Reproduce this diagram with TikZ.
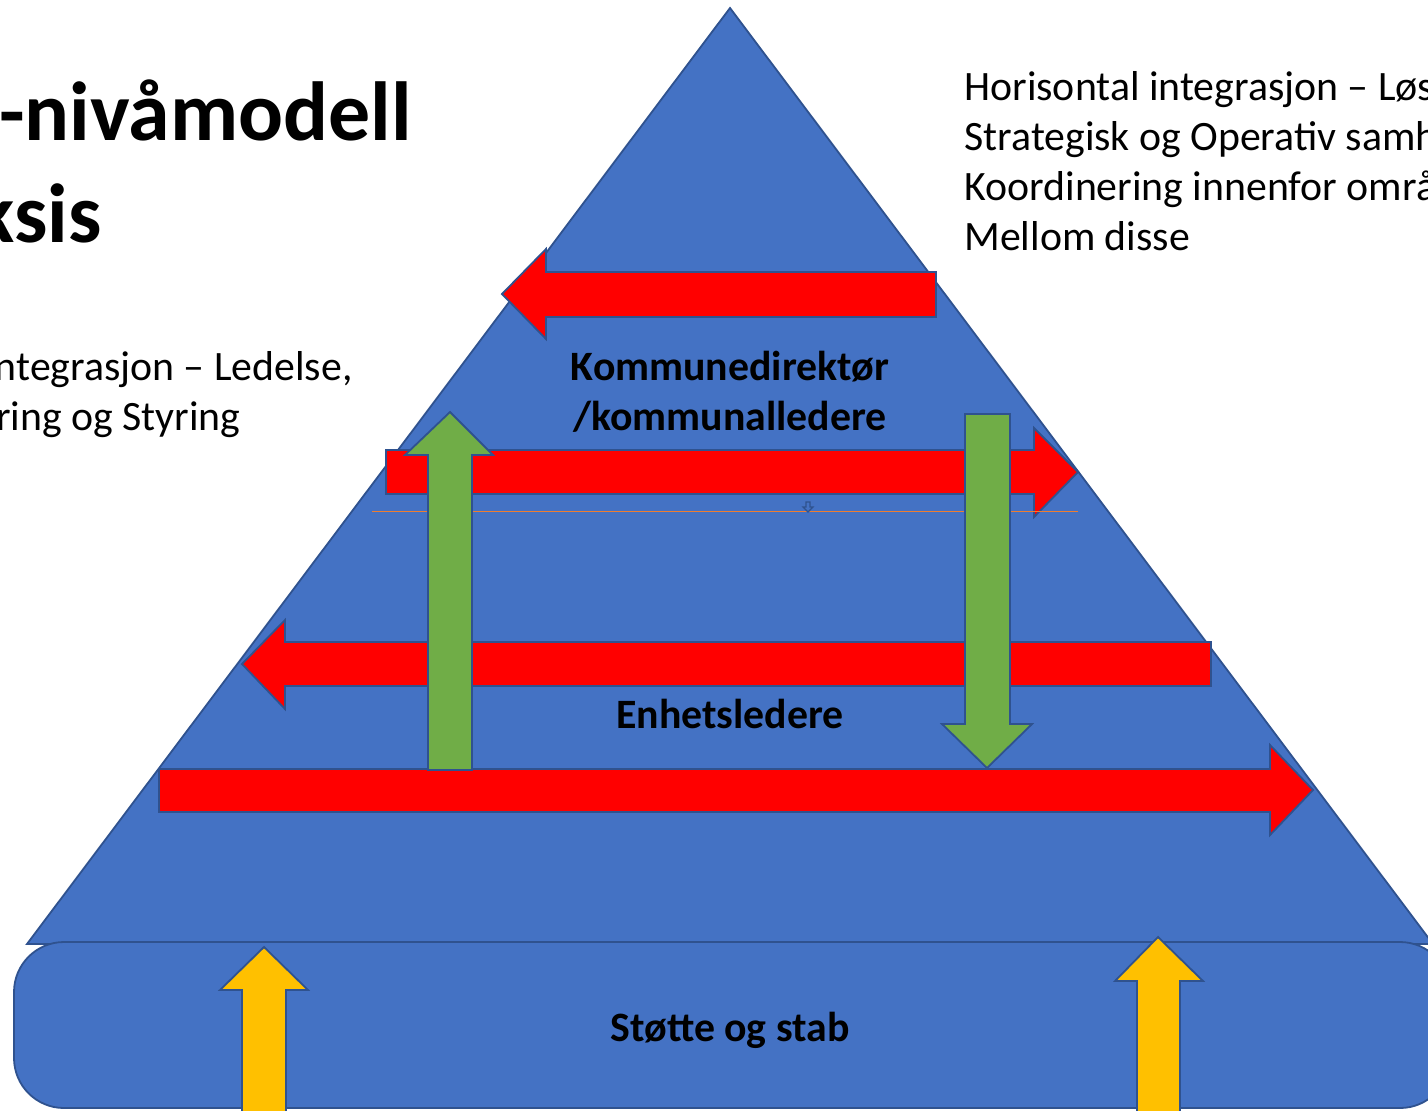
\documentclass[tikz,border=0pt]{standalone}
\usepackage{fontspec}
\setmainfont{Carlito}
\definecolor{pyrblue}{HTML}{4472C4}
\definecolor{edgeblue}{HTML}{2F528F}
\definecolor{arrred}{HTML}{FF0000}
\definecolor{arrgreen}{HTML}{70AD47}
\definecolor{arryellow}{HTML}{FFC000}
\definecolor{thinorange}{HTML}{ED7D31}
\tikzset{
  shapeedge/.style={draw=edgeblue, line width=0.9pt, line join=miter},
  pyr/.style={shapeedge, fill=pyrblue},
  redarrow/.style={shapeedge, fill=arrred},
  greenarrow/.style={shapeedge, fill=arrgreen},
  yellowarrow/.style={shapeedge, fill=arryellow},
  lbl/.style={inner sep=0pt, font=\fontsize{20.9}{25}\selectfont\bfseries, anchor=base},
  plain/.style={inner sep=0pt, font=\fontsize{20.9}{25}\selectfont},
  title/.style={inner sep=0pt, font=\fontsize{41.9}{50}\selectfont\bfseries, anchor=base east}
}
\begin{document}
\begin{tikzpicture}[x=0.5pt, y=-0.5pt]
\useasboundingbox (0,0) rectangle (1428,1110);
\clip (0,0) rectangle (1428,1110);
\fill[white] (0,0) rectangle (1428,1110);
% pyramid
\draw[pyr] (730,8) -- (27,944) -- (1433,944) -- cycle;
% red arrows
\draw[redarrow] (502,294) -- (546,249) -- (546,272) -- (936,272) -- (936,317) -- (546,317) -- (546,339) -- cycle;
\draw[redarrow] (386,450) -- (1034,450) -- (1034,428) -- (1078,472) -- (1034,517) -- (1034,494) -- (386,494) -- cycle;
\draw[redarrow] (242,664) -- (285,620) -- (285,642) -- (1211,642) -- (1211,686) -- (285,686) -- (285,709) -- cycle;
% thin line with small glyph
\draw[thinorange, line width=0.45pt] (372,511) -- (1078,511);
\draw[draw=edgeblue, fill=pyrblue, line width=0.6pt] (806,502) -- (810,502) -- (810,507) -- (813,507) -- (808,512) -- (803,507) -- (806,507) -- cycle;
\draw[redarrow] (159,769) -- (1270,769) -- (1270,745) -- (1313,790) -- (1270,835) -- (1270,812) -- (159,812) -- cycle;
% green arrows
\draw[greenarrow] (450,412) -- (493,455) -- (472,455) -- (472,770) -- (428,770) -- (428,455) -- (405,455) -- cycle;
\draw[greenarrow] (965,414) -- (1010,414) -- (1010,724) -- (1032,724) -- (987,768) -- (942,724) -- (965,724) -- cycle;
% base rounded rectangle
\draw[pyr, rounded corners=25] (14,942) rectangle (1450,1108);
% yellow arrows
\draw[yellowarrow] (264,947) -- (308,990) -- (286,990) -- (286,1125) -- (242,1125) -- (242,990) -- (220,990) -- cycle;
\draw[yellowarrow] (1158,937) -- (1203,981) -- (1180,981) -- (1180,1125) -- (1137,1125) -- (1137,981) -- (1115,981) -- cycle;
% labels
\node[lbl] (kd) at (730,380) {Kommunedirektør};
\node[lbl] (kl) at (730,430) {/kommunalledere};
\node[lbl] (el) at (730,728) {Enhetsledere};
\node[lbl] (ss) at (730,1041) {Støtte og stab};
% title
\node[title] (t1) at (412,140) {-nivåmodell};
\node[title] (t2) at (102,242) {ksis};
% left text
\node[plain, anchor=base east] (v1) at (353,380) {ntegrasjon – Ledelse,};
\node[plain, anchor=base east] (v2) at (241,430) {ring og Styring};
% right text
\node[plain, anchor=base west] (h1) at (964,100) {Horisontal integrasjon – Løs};
\node[plain, anchor=base west] (h2) at (964,150) {Strategisk og Operativ samh};
\node[plain, anchor=base west] (h3) at (964,200) {Koordinering innenfor områ};
\node[plain, anchor=base west] (h4) at (964,250) {Mellom disse};
\end{tikzpicture}
\end{document}
